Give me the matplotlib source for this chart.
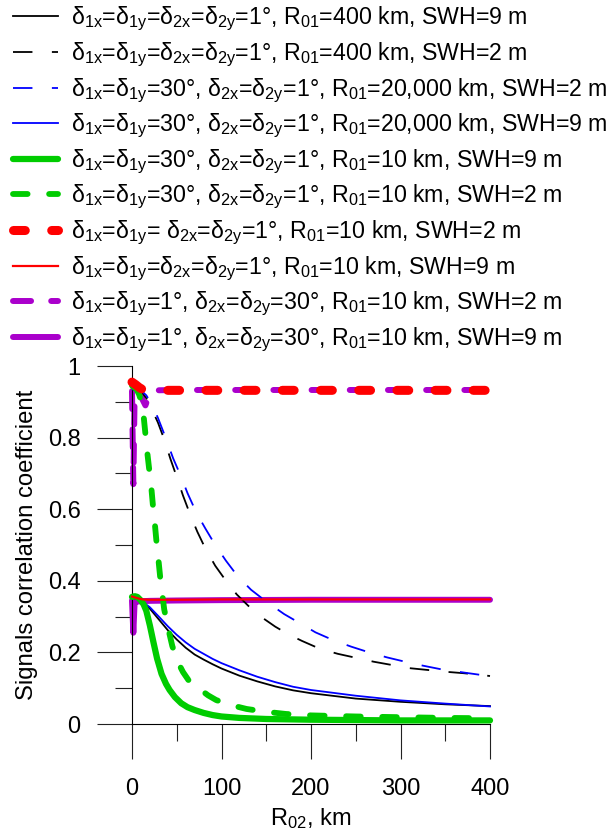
import matplotlib
matplotlib.use('Agg')
import matplotlib.pyplot as plt
from matplotlib.ticker import FixedLocator, FixedFormatter

plt.rcParams['font.family'] = ['Liberation Sans', 'DejaVu Sans']
plt.rcParams['mathtext.fontset'] = 'custom'
plt.rcParams['mathtext.rm'] = 'Liberation Sans'
plt.rcParams['mathtext.it'] = 'Liberation Sans:italic'
plt.rcParams['mathtext.default'] = 'regular'
plt.rcParams['lines.scale_dashes'] = False

# R02 (km) and correlation coefficient for each case
x_k9 = [0, 5, 10, 20, 30, 40, 50, 60, 70, 80, 90, 100, 120, 140, 160, 180, 200, 250, 300, 350, 400]
k9 = [0.352, 0.350, 0.344, 0.322, 0.292, 0.262, 0.236, 0.213, 0.194, 0.180, 0.167, 0.155, 0.135,
      0.119, 0.105, 0.094, 0.086, 0.071, 0.062, 0.055, 0.050]
b9 = [0.352, 0.350, 0.345, 0.326, 0.300, 0.273, 0.249, 0.228, 0.210, 0.196, 0.182, 0.170, 0.150,
      0.132, 0.117, 0.104, 0.095, 0.079, 0.066, 0.057, 0.049]

x_k2 = [0, 10, 16, 22, 29, 36, 43, 50, 57, 65, 73, 82, 93, 105, 117, 130, 145, 160, 175, 190,
        210, 230, 250, 270, 290, 310, 330, 350, 370, 390, 400]
k2 = [0.935, 0.93, 0.91, 0.88, 0.842, 0.795, 0.74, 0.69, 0.638, 0.585, 0.537, 0.49, 0.442, 0.40,
      0.362, 0.33, 0.298, 0.272, 0.25, 0.232, 0.21, 0.196, 0.185, 0.174, 0.165, 0.156, 0.151,
      0.146, 0.142, 0.137, 0.134]

x_b2 = [0, 10, 16, 22, 29, 36, 46, 55, 62, 72, 82, 93, 105, 118, 133, 150, 170, 190, 205, 225,
        245, 265, 285, 305, 325, 345, 370, 390, 400]
b2 = [0.935, 0.932, 0.918, 0.893, 0.855, 0.81, 0.742, 0.69, 0.645, 0.59, 0.546, 0.5, 0.456, 0.413,
      0.375, 0.342, 0.307, 0.278, 0.256, 0.234, 0.216, 0.2, 0.186, 0.174, 0.163, 0.153, 0.144,
      0.137, 0.134]

x_g9 = [0, 3, 6, 10, 13, 16, 20, 24, 28, 33, 38, 42, 48, 55, 62, 70, 80, 90, 100, 120, 150, 200,
        250, 300, 350, 400]
g9 = [0.355, 0.357, 0.355, 0.345, 0.334, 0.316, 0.275, 0.228, 0.183, 0.140, 0.112, 0.095, 0.075,
      0.058, 0.047, 0.039, 0.031, 0.025, 0.021, 0.017, 0.014, 0.012, 0.011, 0.010, 0.010, 0.010]

x_g2 = [0, 5, 8, 11, 13, 15, 17, 19.5, 21.5, 23.5, 25.5, 27.5, 29.5, 31.5, 33.5, 36, 40, 45, 51,
        57, 63, 70, 77, 85, 94, 105, 115, 128, 150, 172, 200, 250, 300, 350, 400]
g2 = [0.945, 0.935, 0.92, 0.895, 0.86, 0.81, 0.76, 0.705, 0.663, 0.607, 0.56, 0.505, 0.46, 0.41,
      0.37, 0.32, 0.272, 0.218, 0.174, 0.145, 0.123, 0.107, 0.095, 0.08, 0.067, 0.057, 0.05,
      0.042, 0.034, 0.028, 0.024, 0.021, 0.019, 0.017, 0.016]

x_r2 = [0, 4, 8, 12, 20, 50, 100, 200, 300, 400]
r2 = [0.955, 0.948, 0.940, 0.934, 0.932, 0.932, 0.932, 0.932, 0.932, 0.932]
x_r9 = [0, 4, 8, 12, 20, 50, 100, 200, 300, 400]
r9 = [0.356, 0.353, 0.350, 0.348, 0.347, 0.347, 0.348, 0.348, 0.348, 0.348]

x_m2 = [0, 1.5, 3, 8, 12, 15, 20, 25, 50, 100, 200, 300, 400]
m2 = [0.93, 0.67, 0.93, 0.93, 0.905, 0.89, 0.925, 0.932, 0.933, 0.933, 0.933, 0.933, 0.933]
x_m9 = [0, 1.5, 3, 6, 10, 20, 50, 100, 200, 300, 400]
m9 = [0.345, 0.255, 0.345, 0.342, 0.343, 0.344, 0.345, 0.346, 0.347, 0.347, 0.347]

labels = [
    'δ$_{1x}$=δ$_{1y}$=δ$_{2x}$=δ$_{2y}$=1°, R$_{01}$=400 km, SWH=9 m',
    'δ$_{1x}$=δ$_{1y}$=δ$_{2x}$=δ$_{2y}$=1°, R$_{01}$=400 km, SWH=2 m',
    'δ$_{1x}$=δ$_{1y}$=30°, δ$_{2x}$=δ$_{2y}$=1°, R$_{01}$=20,000 km, SWH=2 m',
    'δ$_{1x}$=δ$_{1y}$=30°, δ$_{2x}$=δ$_{2y}$=1°, R$_{01}$=20,000 km, SWH=9 m',
    'δ$_{1x}$=δ$_{1y}$=30°, δ$_{2x}$=δ$_{2y}$=1°, R$_{01}$=10 km, SWH=9 m',
    'δ$_{1x}$=δ$_{1y}$=30°, δ$_{2x}$=δ$_{2y}$=1°, R$_{01}$=10 km, SWH=2 m',
    'δ$_{1x}$=δ$_{1y}$= δ$_{2x}$=δ$_{2y}$=1°, R$_{01}$=10 km, SWH=2 m',
    'δ$_{1x}$=δ$_{1y}$=δ$_{2x}$=δ$_{2y}$=1°, R$_{01}$=10 km, SWH=9 m',
    'δ$_{1x}$=δ$_{1y}$=1°, δ$_{2x}$=δ$_{2y}$=30°, R$_{01}$=10 km, SWH=2 m',
    'δ$_{1x}$=δ$_{1y}$=1°, δ$_{2x}$=δ$_{2y}$=30°, R$_{01}$=10 km, SWH=9 m',
]

x_ticks = [0, 100, 200, 300, 400]
x_ticklabels = ['0', '100', '200', '300', '400']
y_ticks = [0, 0.2, 0.4, 0.6, 0.8, 1.0]
y_ticklabels = ['0', '0.2', '0.4', '0.6', '0.8', '1']

green = '#00cc00'
purple = '#aa00cc'

fig = plt.figure(figsize=(6.06, 8.3), dpi=100)
ax = fig.add_axes([132 / 606, 106 / 830, 358 / 606, 358 / 830])

kw = dict(clip_on=False)
l1, = ax.plot(x_k9, k9, color='k', lw=1.3, zorder=3, **kw)
l2, = ax.plot(x_k2, k2, color='k', lw=1.3, dashes=(14, 14), zorder=3, **kw)
l3, = ax.plot(x_b2, b2, color='#0000ff', lw=1.3, dashes=(14, 14), zorder=3, **kw)
l4, = ax.plot(x_k9, b9, color='#0000ff', lw=1.3, zorder=3, **kw)
l5, = ax.plot(x_g9, g9, color=green, lw=4.5, solid_capstyle='round', zorder=4, **kw)
l6, = ax.plot(x_g2, g2, color=green, lw=4.2, dashes=(10.5, 15.5), dash_capstyle='round', zorder=4, **kw)
l7, = ax.plot(x_r2, r2, color='#ff0000', lw=6.5, dashes=(8.5, 19), dash_capstyle='round', zorder=5, **kw)
l8, = ax.plot(x_r9, r9, color='#ff0000', lw=1.6, zorder=5, **kw)
l9, = ax.plot(x_m2, m2, color=purple, lw=4.3, dashes=(13, 14.5), dash_capstyle='round', zorder=2, **kw)
l10, = ax.plot(x_m9, m9, color=purple, lw=4.3, solid_capstyle='round', zorder=2, **kw)

ax.set_xlim(0, 400)
ax.set_ylim(0, 1)
for s in ['top', 'right']:
    ax.spines[s].set_visible(False)
for s in ['left', 'bottom']:
    ax.spines[s].set_linewidth(0.8)

ax.xaxis.set_major_locator(FixedLocator(x_ticks))
ax.xaxis.set_major_formatter(FixedFormatter(x_ticklabels))
ax.xaxis.set_minor_locator(FixedLocator([50, 150, 250, 350]))
ax.yaxis.set_major_locator(FixedLocator(y_ticks))
ax.yaxis.set_major_formatter(FixedFormatter(y_ticklabels))
ax.yaxis.set_minor_locator(FixedLocator([0.1, 0.3, 0.5, 0.7, 0.9]))
ax.tick_params(which='major', direction='out', length=25, width=0.8, color='#222222', labelsize=17)
ax.tick_params(which='minor', direction='out', length=12.5, width=0.8, color='#222222')
ax.tick_params(axis='x', which='major', pad=14)
ax.tick_params(axis='y', which='major', pad=12)

ax.set_xlabel('R$_{02}$, km', fontsize=17)
ax.xaxis.set_label_coords(0.5, -0.228)
ax.set_ylabel('Signals correlation coefficient', fontsize=17.2)
ax.yaxis.set_label_coords(-0.262, 0.5)

fig.legend([l1, l2, l3, l4, l5, l6, l7, l8, l9, l10], labels, loc='upper left',
           bbox_to_anchor=(13 / 606, 1 - 5 / 830), frameon=False, fontsize=16.7,
           handlelength=1.92, handletextpad=0.56, labelspacing=0.31,
           borderpad=0, borderaxespad=0)

fig.savefig('out.png', dpi=100)
